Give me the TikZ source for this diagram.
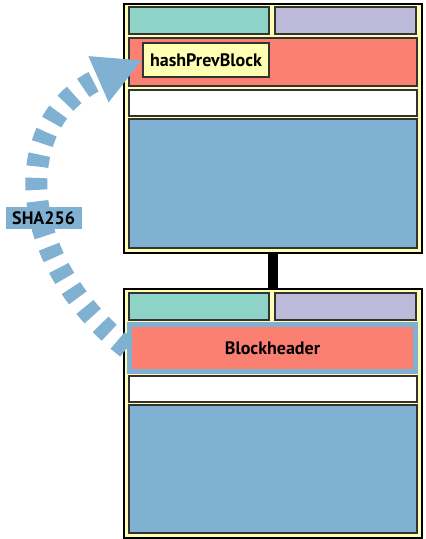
\documentclass[tikz,border=0pt]{standalone}
\usepackage{fontspec}
\setmainfont{PT Sans}
\usepackage{tikz}
\usetikzlibrary{arrows.meta}
\definecolor{setyellow}{HTML}{FFFFB3}
\definecolor{setteal}{HTML}{8DD3C7}
\definecolor{setlav}{HTML}{BEBADA}
\definecolor{setsalmon}{HTML}{FB8072}
\definecolor{setblue}{HTML}{80B1D3}

\begin{document}
\begin{tikzpicture}[x=0.75pt, y=-0.75pt,
	every node/.style={rectangle, inner sep=0pt, font=\bfseries\fontsize{13.5}{16}\selectfont},
	sz/.style 2 args={minimum width=#1*0.75pt, minimum height=#2*0.75pt},
	block/.style={draw=black, line width=0.9pt, fill=setyellow},
	part/.style={draw=black!80, line width=0.8pt},
	hash/.style={draw=setblue, line width=16.5pt, dash pattern=on 9pt off 8.6pt,
		-{Triangle[length=36pt, width=35pt]}}]
	\useasboundingbox (0,0) rectangle (425,539);

	\node[block, sz={298}{249}] (top) at (273,128.5) {};
	\node[part, fill=setteal, sz={140}{27}] (tver) at (199,20.5) {};
	\node[part, fill=setlav, sz={141}{27}] (ttime) at (345.5,20.5) {};
	\node[part, fill=setsalmon, sz={288}{48}] (thead) at (273,62) {};
	\node[part, fill=setyellow, sz={126}{34}] (prev) at (206,60) {hashPrevBlock};
	\node[part, fill=white, sz={288}{26}] (tcount) at (273,103) {};
	\node[part, fill=setblue, sz={288}{129}] (ttx) at (273,183.5) {};

	\node[block, sz={298}{249}] (bot) at (273,413.5) {};
	\node[part, fill=setteal, sz={140}{27}] (bver) at (199,306.5) {};
	\node[part, fill=setlav, sz={141}{27}] (btime) at (345.5,306.5) {};
	\node[draw=setblue, line width=3.75pt, fill=setsalmon, sz={286}{47}] (hdr) at (272.5,348) {Blockheader};
	\node[part, fill=white, sz={288}{26}] (bcount) at (273,389) {};
	\node[part, fill=setblue, sz={288}{128}] (btx) at (273,469) {};

	\draw[line width=7.5pt] (top.south) -- (bot.north);

	\draw[hash] (hdr.west) .. controls +(-114,-90) and +(-133.5,58.5) .. (prev.west)
		node[pos=0.42, fill=setblue, inner xsep=5pt, minimum height=17pt] (sha) {SHA256};
\end{tikzpicture}
\end{document}
